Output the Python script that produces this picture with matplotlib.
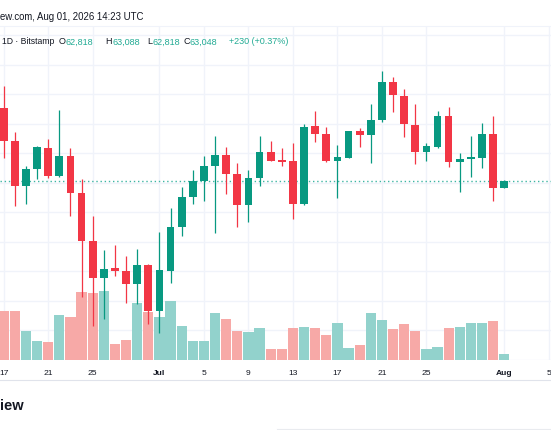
import matplotlib
matplotlib.use("Agg")
import matplotlib.pyplot as plt
import matplotlib.dates as mdates
import pandas as pd
import numpy as np

plt.rcParams['font.family'] = ['Liberation Sans', 'DejaVu Sans']

# ---------------- data ----------------
dates = pd.date_range('2026-06-17', '2026-08-01', freq='D')
opens = [65523, 64400, 62889, 63465, 64177, 63217, 63906, 62651, 61024, 59770,
         60099, 60007, 59556, 60221, 58641, 60017, 61489, 62526, 63068, 63556,
         63940, 63306, 62245, 63160, 64051, 63770, 63726, 62268, 64912, 64651,
         63746, 63848, 64743, 64618, 65126, 66404, 65950, 64967, 64051, 64211,
         65251, 63692, 63814, 63848, 64641, 62818]
highs = [66289, 64709, 63577, 64234, 64482, 65465, 64167, 63126, 61882, 60719,
         60889, 60505, 60753, 60245, 61319, 62153, 62865, 63431, 63895, 64594,
         64221, 63668, 63431, 64594, 64414, 64177, 64346, 64990, 65431, 64879,
         64289, 64763, 64855, 65652, 66777, 66574, 66177, 65668, 64336, 65431,
         65577, 64007, 64584, 65035, 65262, 63088]
lows = [63838, 62200, 62268, 63126, 63160, 63190, 61882, 59116, 58153, 58380,
        59848, 58912, 58888, 58210, 57922, 59600, 61204, 62278, 62390, 61295,
        62617, 61509, 61678, 62878, 63730, 63556, 61770, 62245, 64390, 63692,
        62472, 63830, 64201, 63679, 65048, 65407, 64540, 63634, 63726, 64187,
        63523, 62675, 63184, 63509, 62380, 62818]
closes = [64414, 62889, 63465, 64201, 63217, 63906, 62662, 61024, 59770, 60065,
          60007, 59556, 60221, 58641, 60041, 61489, 62516, 63068, 63556, 63940,
          63306, 62245, 63160, 64051, 63746, 63712, 62268, 64899, 64662, 63746,
          63862, 64743, 64618, 65136, 66404, 65974, 64980, 64051, 64245, 65251,
          63692, 63814, 63862, 64641, 62818, 63048]
volumes = [2435, 2435, 1435, 965, 885, 2250, 2135, 3400, 3350, 3435,
           800, 1000, 2835, 2410, 2165, 2935, 1685, 965, 950, 2335,
           2035, 1435, 1385, 1585, 565, 550, 1615, 1650, 1600, 1250,
           1865, 585, 765, 2365, 2015, 1565, 1800, 1450, 550, 650,
           1600, 1635, 1865, 1865, 1950, 285]

tick_dates = ['2026-06-17', '2026-06-21', '2026-06-25', '2026-07-01', '2026-07-05',
              '2026-07-09', '2026-07-13', '2026-07-17', '2026-07-21', '2026-07-25',
              '2026-08-01', '2026-08-05']
tick_labels = ['17', '21', '25', 'Jul', '5', '9', '13', '17', '21', '25', 'Aug', '5']

header_time = 'ew.com, Aug 01, 2026 14:23 UTC'
legend_title = '1D · Bitstamp'
ohlc_letters = ['O', 'H', 'L', 'C']
ohlc_values = ['62,818', '63,088', '62,818', '63,048']
change_text = '+230 (+0.37%)'
last_price = 63048

# ---------------- style ----------------
UP = '#089981'
DOWN = '#F23645'
UP_VOL = '#92D2CC'
DOWN_VOL = '#F7A9A7'
GRID = '#F0F3FA'
TEXT = '#131722'
VAL = '#22AB94'

W, H = 551, 431
fig = plt.figure(figsize=(W / 100, H / 100), dpi=100)
fig.patch.set_facecolor('white')

pane_top, pane_bot = 27, 361
rect = [0, 1 - pane_bot / H, 1, (pane_bot - pane_top) / H]

x = mdates.date2num(dates)
x0 = x[0]
xlim = (x0 - 0.333, x0 + 49.2)
ylim = (56990, 68313)

# grid axes (bottom layer)
axg = fig.add_axes(rect)
axg.set_xlim(*xlim)
axg.set_ylim(*ylim)
tx = mdates.date2num(pd.to_datetime(tick_dates))
for t in tx:
    axg.axvline(t, color=GRID, lw=1, zorder=0)
for p in range(57000, 69000, 1000):
    axg.axhline(p, color=GRID, lw=1, zorder=0)
axg.axis('off')

# volume axes
axv = fig.add_axes(rect)
axv.patch.set_visible(False)
up = np.array(closes) >= np.array(opens)
vcol = [UP_VOL if u else DOWN_VOL for u in up]
axv.bar(x, volumes, width=0.92, color=vcol, linewidth=0)
axv.set_xlim(*xlim)
axv.set_ylim(0, (pane_bot - pane_top) * 50)
axv.axis('off')

# candle axes (top layer)
ax = fig.add_axes(rect)
ax.patch.set_visible(False)
ax.set_xlim(*xlim)
ax.set_ylim(*ylim)
ccol = [UP if u else DOWN for u in up]
ax.vlines(x, lows, highs, colors=ccol, lw=0.9, zorder=2)
bottoms = np.minimum(opens, closes)
heights = np.maximum(np.abs(np.array(closes) - np.array(opens)), 40)
ax.bar(x, heights, bottom=bottoms, width=0.69, color=ccol, linewidth=0, zorder=3)
ax.axhline(last_price, color='#3DB5A3', lw=1.0, linestyle=(0, (1, 2)), zorder=1)
for s in ax.spines.values():
    s.set_visible(False)
ax.set_yticks([])
ax.set_xticks(tx)
ax.set_xticklabels(tick_labels)
ax.tick_params(axis='x', length=0, pad=6.5, labelsize=6.1, colors=TEXT)
for lab in ax.get_xticklabels():
    if lab.get_text() in ('Jul', 'Aug'):
        lab.set_fontweight('bold')

# ---------------- lines & texts ----------------
def fx(px):
    return px / W

def fy(py):
    return 1 - py / H

fig.add_artist(plt.Line2D([0, 1], [fy(27), fy(27)], color='#F0F3FA', lw=0.8))
fig.add_artist(plt.Line2D([0, 1], [fy(381), fy(381)], color='#E0E3EB', lw=0.8))
fig.add_artist(plt.Line2D([fx(277), 1], [fy(430), fy(430)], color='#E9EBEF', lw=0.8))

fig.text(fx(0.5), fy(17.5), header_time, fontsize=6.9, color=TEXT, va='center', ha='left')
fig.text(fx(1.7), fy(42), legend_title, fontsize=6.2, color=TEXT, va='center', ha='left')

renderer = fig.canvas.get_renderer()
letter_x = [58.5, 105.5, 147.5, 183]
for lx, l, v in zip(letter_x, ohlc_letters, ohlc_values):
    t = fig.text(fx(lx), fy(42), l, fontsize=6.5, color=TEXT, va='center', ha='left')
    bb = t.get_window_extent(renderer=renderer)
    fig.text(bb.x1 / W + 0.3 / W, fy(42), v, fontsize=6.5, color=VAL, va='center', ha='left')
fig.text(fx(229.3), fy(42), change_text, fontsize=6.5, color=VAL, va='center', ha='left')

fig.text(fx(0), fy(406), 'iew', fontsize=10.5, fontweight='bold', color=TEXT, va='center', ha='left')

fig.savefig('out.png', dpi=100, facecolor='white')
